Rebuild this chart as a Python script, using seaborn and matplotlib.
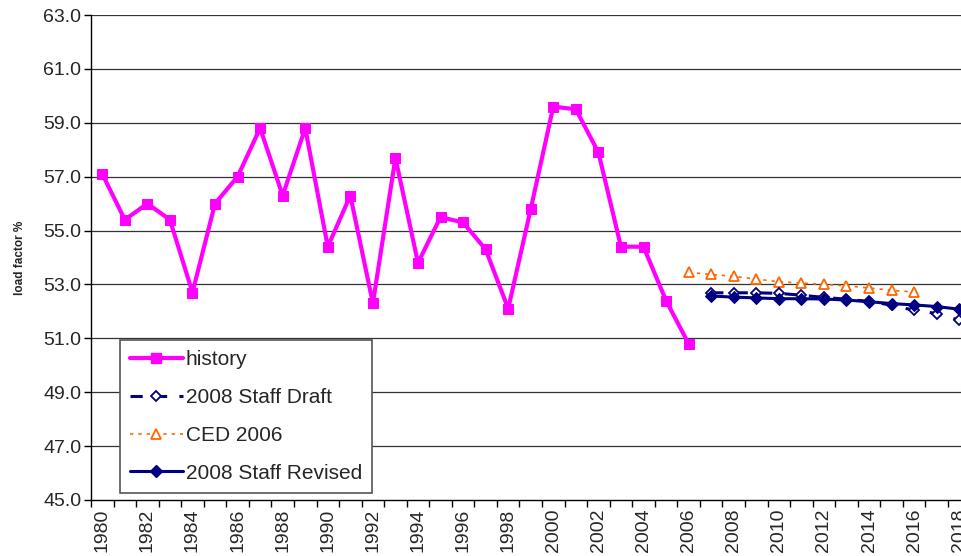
import numpy as np
import pandas as pd
import matplotlib
matplotlib.use("Agg")
import matplotlib.pyplot as plt
import seaborn as sns
from matplotlib.lines import Line2D

# history and forecasts
hist_years = list(range(1980, 2007))
hist_vals = [57.1, 55.4, 56.0, 55.4, 52.7, 56.0, 57.0, 58.8, 56.3, 58.8,
             54.4, 56.3, 52.3, 57.7, 53.8, 55.5, 55.3, 54.3, 52.1, 55.8,
             59.6, 59.5, 57.9, 54.4, 54.4, 52.4, 50.8]

draft_years = list(range(2007, 2019))
draft_vals = [52.69, 52.69, 52.69, 52.67, 52.6, 52.52, 52.45, 52.37,
              52.23, 52.04, 51.92, 51.67]

ced_years = list(range(2006, 2017))
ced_vals = [53.45, 53.37, 53.3, 53.2, 53.1, 53.05, 53.0, 52.95, 52.87,
            52.78, 52.72]

rev_years = list(range(2007, 2019))
rev_vals = [52.57, 52.53, 52.5, 52.47, 52.47, 52.46, 52.42, 52.36, 52.29,
            52.24, 52.18, 52.08]

sns.set_style("white")
plt.rcParams["font.family"] = ["Liberation Sans", "DejaVu Sans"]

fig = plt.figure(figsize=(9.61, 5.56), dpi=100)
ax = fig.add_axes([91 / 961, 1 - 500 / 556, 879.5 / 961, 485 / 556])

# gridlines
for y in np.arange(47, 63.1, 2):
    ax.axhline(y, color="#333333", lw=0.9, zorder=0)

sns.lineplot(x=hist_years, y=hist_vals, ax=ax, color="#ff00ff", lw=3,
             marker="s", markersize=7, markeredgecolor="#ff00ff")
sns.lineplot(x=ced_years, y=ced_vals, ax=ax, color="#ff6600", lw=1.2,
             linestyle=(0, (2, 3)), marker="^", markersize=7,
             markerfacecolor="white", markeredgecolor="#ff6600", markeredgewidth=1.3)
sns.lineplot(x=draft_years, y=draft_vals, ax=ax, color="#000080", lw=2.2,
             linestyle=(0, (4, 4)), marker="D", markersize=5.5,
             markerfacecolor="white", markeredgecolor="#000080", markeredgewidth=1.3)
sns.lineplot(x=rev_years, y=rev_vals, ax=ax, color="#000080", lw=2.2,
             marker="D", markersize=6.5, markeredgecolor="#000080")

ax.set_xlim(1979.5, 2018.5)
ax.set_ylim(45, 63)
ax.set_yticks(np.arange(45, 63.1, 2))
ax.set_yticklabels([f"{v:.1f}" for v in np.arange(45, 63.1, 2)], fontsize=14)
ax.set_xticks(range(1980, 2019, 2))
ax.set_xticklabels([str(y) for y in range(1980, 2019, 2)], rotation=90, fontsize=14)
ax.set_xticks(np.arange(1979.5, 2019, 1), minor=True)
ax.tick_params(axis="x", which="major", length=0, pad=6)
ax.tick_params(axis="x", which="minor", length=5, width=1, color="black", direction="out", bottom=True)
ax.tick_params(axis="y", length=5, width=1, color="black", direction="out", left=True, pad=2)

for side in ["top", "right"]:
    ax.spines[side].set_visible(False)
for side in ["left", "bottom"]:
    ax.spines[side].set_color("black")
    ax.spines[side].set_linewidth(1)

ax.set_xlabel("")
ax.set_ylabel("load factor %", fontsize=8.5, fontweight="bold", labelpad=12)

handles = [
    Line2D([], [], color="#ff00ff", lw=3, marker="s", markersize=7),
    Line2D([], [], color="#000080", lw=2.2, linestyle=(0, (4, 4)), marker="D",
           markersize=5.5, markerfacecolor="white", markeredgewidth=1.3),
    Line2D([], [], color="#ff6600", lw=1.2, linestyle=(0, (2, 3)), marker="^",
           markersize=7, markerfacecolor="white", markeredgewidth=1.3),
    Line2D([], [], color="#000080", lw=2.2, marker="D", markersize=6.5),
]
labels = ["history", "2008 Staff Draft", "CED 2006", "2008 Staff Revised"]
leg = ax.legend(handles, labels, loc="lower left", bbox_to_anchor=(0.033, 0.0144),
                borderaxespad=0, fontsize=15, frameon=True, fancybox=False,
                framealpha=1, edgecolor="#555555", labelspacing=0.9,
                handlelength=2.5, handletextpad=0.15, borderpad=0.5)
leg.get_frame().set_linewidth(1.2)

fig.savefig("out.png", dpi=100)
